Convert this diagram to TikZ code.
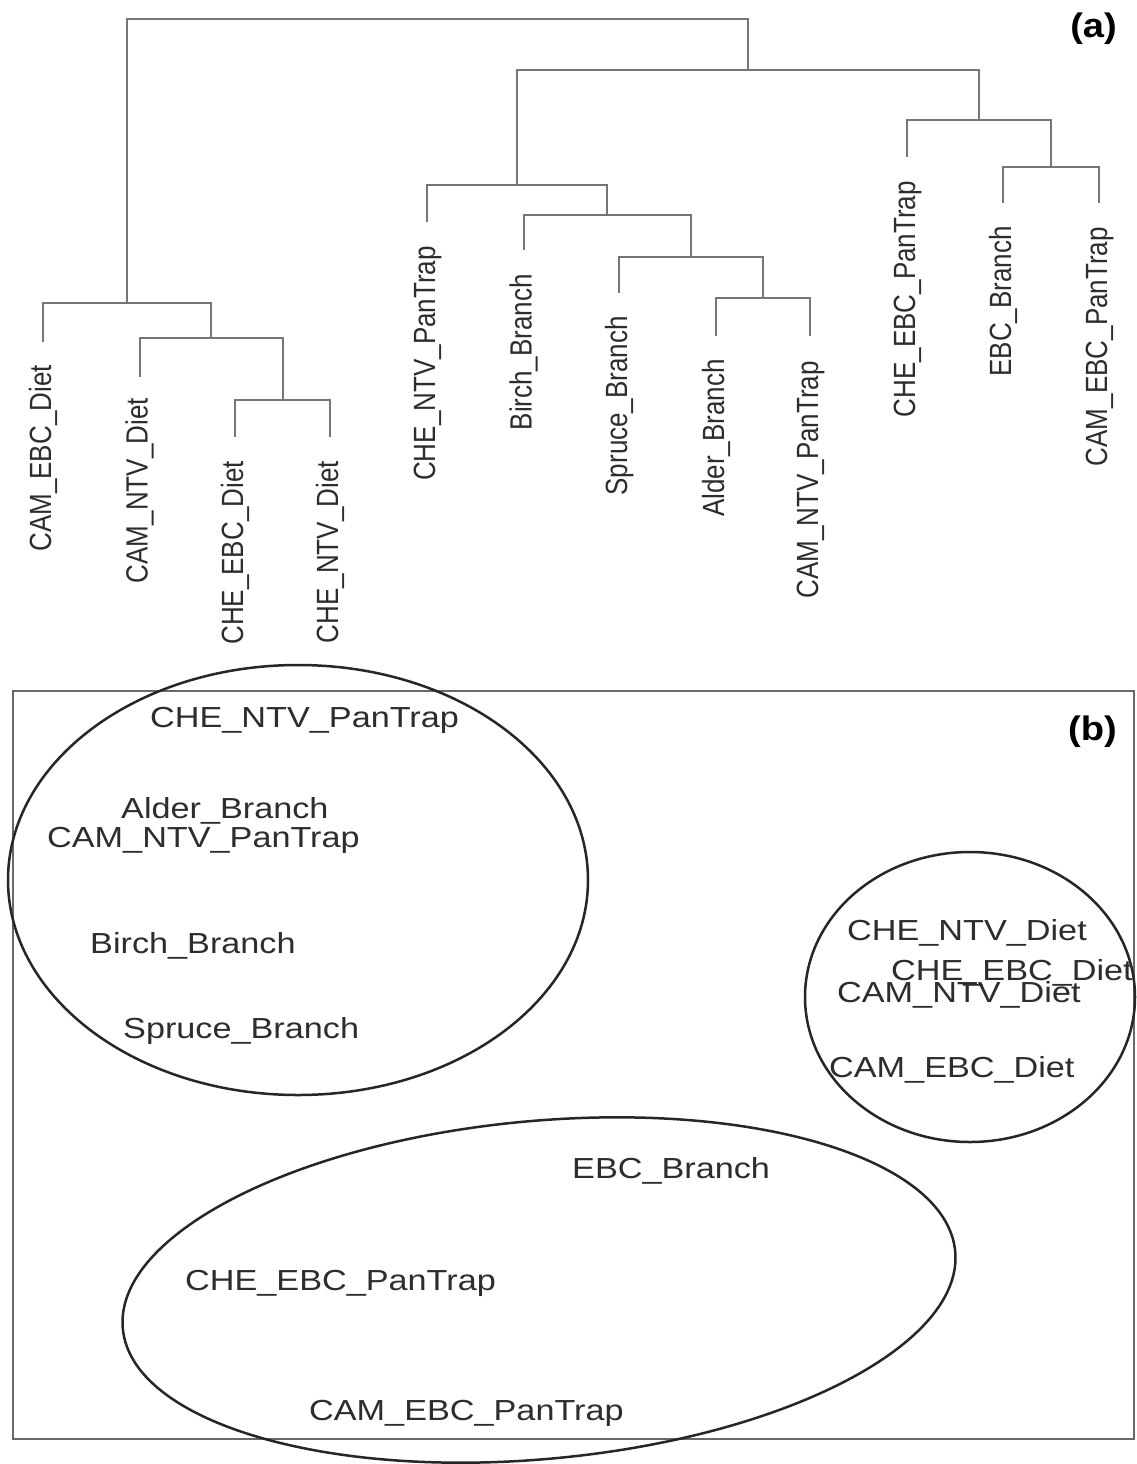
\documentclass[tikz,border=0pt]{standalone}
\usepackage{fontspec}
\setmainfont{Liberation Sans}
\usepackage{graphicx}
\definecolor{dendc}{RGB}{118,118,118}
\definecolor{boxc}{RGB}{105,105,105}
\definecolor{ellc}{RGB}{38,38,38}
\definecolor{txtc}{RGB}{45,45,45}
\newcommand{\tlab}[1]{\scalebox{1}[1.18]{#1}}
\newcommand{\blab}[1]{\scalebox{1.18}[1]{#1}}
\begin{document}
\begin{tikzpicture}[x=1pt,y=-1pt,
  dend/.style={draw=dendc, line width=2pt},
  toplab/.style={rotate=90, anchor=base east, inner sep=0pt, text=txtc, font=\fontsize{26}{26}\selectfont},
  botlab/.style={anchor=base west, inner sep=0pt, text=txtc, font=\fontsize{29}{29}\selectfont},
  panlab/.style={anchor=base east, inner sep=0pt, text=black, font=\bfseries\fontsize{34}{34}\selectfont},
  grp/.style={draw=ellc, line width=2.5pt},
  panelbox/.style={draw=boxc, line width=2.5pt}]
\useasboundingbox (0,0) rectangle (1136,1464);
\fill[white] (0,0) rectangle (1136,1464);

% ---------- (a) dendrogram ----------
\coordinate (root) at (437.5,19);
\coordinate (L)   at (127,303);
\coordinate (L2)  at (211,338);
\coordinate (L3)  at (282.5,400);
\coordinate (R)   at (748,70);
\coordinate (R1)  at (517,185);
\coordinate (R11) at (607,215);
\coordinate (R12) at (691,257);
\coordinate (R13) at (763,298);
\coordinate (R2)  at (979,120);
\coordinate (R21) at (1051,167);
\coordinate (l1)  at (43,342);
\coordinate (l2)  at (139.5,377);
\coordinate (l3)  at (235,437);
\coordinate (l4)  at (330,437);
\coordinate (l5)  at (427,222);
\coordinate (l6)  at (523.5,250);
\coordinate (l7)  at (619,293);
\coordinate (l8)  at (716,336);
\coordinate (l9)  at (810,336);
\coordinate (l10) at (907,157);
\coordinate (l11) at (1003,203);
\coordinate (l12) at (1099,203);

\draw[dend] (root) -| (L);
\draw[dend] (root) -| (R);
\draw[dend] (L) -| (l1);
\draw[dend] (L) -| (L2);
\draw[dend] (L2) -| (l2);
\draw[dend] (L2) -| (L3);
\draw[dend] (L3) -| (l3);
\draw[dend] (L3) -| (l4);
\draw[dend] (R) -| (R1);
\draw[dend] (R) -| (R2);
\draw[dend] (R1) -| (l5);
\draw[dend] (R1) -| (R11);
\draw[dend] (R11) -| (l6);
\draw[dend] (R11) -| (R12);
\draw[dend] (R12) -| (l7);
\draw[dend] (R12) -| (R13);
\draw[dend] (R13) -| (l8);
\draw[dend] (R13) -| (l9);
\draw[dend] (R2) -| (l10);
\draw[dend] (R2) -| (R21);
\draw[dend] (R21) -| (l11);
\draw[dend] (R21) -| (l12);

\path (l1)  ++(8,23) node[toplab] (t1)  {\tlab{CAM\_EBC\_Diet}};
\path (l2)  ++(8,21) node[toplab] (t2)  {\tlab{CAM\_NTV\_Diet}};
\path (l3)  ++(8,24) node[toplab] (t3)  {\tlab{CHE\_EBC\_Diet}};
\path (l4)  ++(8,24) node[toplab] (t4)  {\tlab{CHE\_NTV\_Diet}};
\path (l5)  ++(8,24) node[toplab] (t5)  {\tlab{CHE\_NTV\_PanTrap}};
\path (l6)  ++(8,24) node[toplab] (t6)  {\tlab{Birch\_Branch}};
\path (l7)  ++(8,23) node[toplab] (t7)  {\tlab{Spruce\_Branch}};
\path (l8)  ++(8,23) node[toplab] (t8)  {\tlab{Alder\_Branch}};
\path (l9)  ++(8,25) node[toplab] (t9)  {\tlab{CAM\_NTV\_PanTrap}};
\path (l10) ++(8,24) node[toplab] (t10) {\tlab{CHE\_EBC\_PanTrap}};
\path (l11) ++(8,23) node[toplab] (t11) {\tlab{EBC\_Branch}};
\path (l12) ++(8,24) node[toplab] (t12) {\tlab{CAM\_EBC\_PanTrap}};

\node[panlab] (pa) at (1117,38) {\scalebox{1.12}[1]{(a)}};

% ---------- (b) ordination ----------
\draw[panelbox] (13,691) rectangle (1134,1439);
\draw[grp] (298,880) ellipse [x radius=290, y radius=215];
\draw[grp] (970,997) ellipse [x radius=165, y radius=145];
\draw[grp, rotate around={5.3:(539,1290)}] (539,1290) ellipse [x radius=418, y radius=169];

\node[botlab] (b1)  at (150,727)  {\blab{CHE\_NTV\_PanTrap}};
\node[botlab] (b2)  at (121,818)  {\blab{Alder\_Branch}};
\node[botlab] (b3)  at (47,847)   {\blab{CAM\_NTV\_PanTrap}};
\node[botlab] (b4)  at (90,953)   {\blab{Birch\_Branch}};
\node[botlab] (b5)  at (123,1038) {\blab{Spruce\_Branch}};
\node[botlab] (b6)  at (847,940)  {\blab{CHE\_NTV\_Diet}};
\node[botlab] (b7)  at (891,980)  {\blab{CHE\_EBC\_Diet}};
\node[botlab] (b8)  at (837,1002) {\blab{CAM\_NTV\_Diet}};
\node[botlab] (b9)  at (829,1077) {\blab{CAM\_EBC\_Diet}};
\node[botlab] (b10) at (572,1178) {\blab{EBC\_Branch}};
\node[botlab] (b11) at (185,1290) {\blab{CHE\_EBC\_PanTrap}};
\node[botlab] (b12) at (309,1420) {\blab{CAM\_EBC\_PanTrap}};

\node[panlab] (pb) at (1117,740) {\scalebox{1.12}[1]{(b)}};
\end{tikzpicture}
\end{document}
